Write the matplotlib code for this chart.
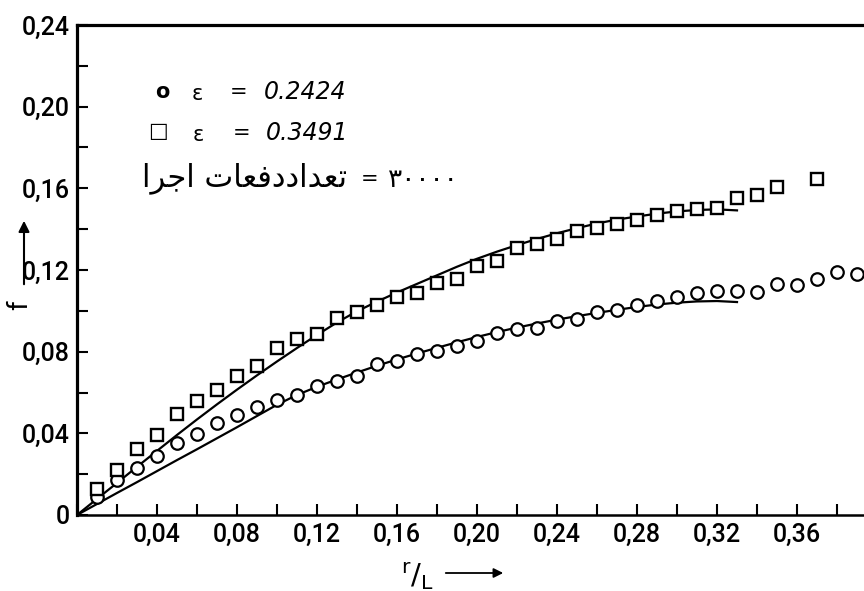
import matplotlib
matplotlib.use('Agg')
import matplotlib.pyplot as plt
from matplotlib.ticker import MultipleLocator, FuncFormatter

# measured points, eps = 0.2424 (circles)
r_circ = [0.01, 0.02, 0.03, 0.04, 0.05, 0.06, 0.07, 0.08, 0.09, 0.10,
          0.11, 0.12, 0.13, 0.14, 0.15, 0.16, 0.17, 0.18, 0.19, 0.20,
          0.21, 0.22, 0.23, 0.24, 0.25, 0.26, 0.27, 0.28, 0.29, 0.30,
          0.31, 0.32, 0.33, 0.34, 0.35, 0.36, 0.37, 0.38, 0.39]
f_circ = [0.0090, 0.0172, 0.0229, 0.0291, 0.0355, 0.0396, 0.0452, 0.0488, 0.0530, 0.0565,
          0.0588, 0.0633, 0.0655, 0.0679, 0.0738, 0.0753, 0.0787, 0.0804, 0.0829, 0.0851,
          0.0892, 0.0909, 0.0917, 0.0950, 0.0959, 0.0994, 0.1003, 0.1031, 0.1050, 0.1067,
          0.1089, 0.1099, 0.1099, 0.1092, 0.1131, 0.1126, 0.1156, 0.1189, 0.1182]

# measured points, eps = 0.3491 (squares)
r_sq = [0.01, 0.02, 0.03, 0.04, 0.05, 0.06, 0.07, 0.08, 0.09, 0.10,
        0.11, 0.12, 0.13, 0.14, 0.15, 0.16, 0.17, 0.18, 0.19, 0.20,
        0.21, 0.22, 0.23, 0.24, 0.25, 0.26, 0.27, 0.28, 0.29, 0.30,
        0.31, 0.32, 0.33, 0.34, 0.35, 0.37]
f_sq = [0.0128, 0.0221, 0.0324, 0.0390, 0.0493, 0.0558, 0.0614, 0.0679, 0.0728, 0.0819,
        0.0864, 0.0886, 0.0964, 0.0995, 0.1031, 0.1066, 0.1085, 0.1138, 0.1156, 0.1221,
        0.1246, 0.1306, 0.1328, 0.1352, 0.1392, 0.1405, 0.1424, 0.1446, 0.1470, 0.1490,
        0.1498, 0.1503, 0.1552, 0.1568, 0.1606, 0.1645]

# calculated curves
r_fit = [0.0, 0.01, 0.02, 0.03, 0.04, 0.05, 0.06, 0.07, 0.08, 0.09, 0.10,
         0.11, 0.12, 0.13, 0.14, 0.15, 0.16, 0.17, 0.18, 0.19, 0.20,
         0.21, 0.22, 0.23, 0.24, 0.25, 0.26, 0.27, 0.28, 0.29, 0.30,
         0.31, 0.32, 0.33]
f_fit_low = [0.0, 0.0054, 0.0108, 0.0161, 0.0215, 0.0269, 0.0322, 0.0376, 0.0430, 0.0485, 0.0540,
             0.0588, 0.0628, 0.0664, 0.0698, 0.0731, 0.0762, 0.0791, 0.0819, 0.0846, 0.0872,
             0.0896, 0.0918, 0.0938, 0.0957, 0.0974, 0.0990, 0.1005, 0.1019, 0.1031, 0.1040,
             0.1046, 0.1048, 0.1043]
f_fit_high = [0.0, 0.0079, 0.0157, 0.0236, 0.0314, 0.0392, 0.0468, 0.0542, 0.0614, 0.0684, 0.0752,
              0.0818, 0.0882, 0.0943, 0.0998, 0.1045, 0.1090, 0.1132, 0.1174, 0.1216, 0.1255,
              0.1290, 0.1322, 0.1352, 0.1380, 0.1405, 0.1428, 0.1447, 0.1462, 0.1476, 0.1487,
              0.1494, 0.1497, 0.1492]

runs_label = '\uFE8D\uFEAE\uFE9F\uFE8D \uFE95\uFE8E\uFECC\uFED3\uFEA9\uFEA9\uFE8D\uFEAA\uFECC\uFE97'  # تعداددفعات اجرا
runs_value = '۳۰۰۰۰'

W, H = 864, 591
tick_font = ['Roboto', 'DejaVu Sans']
plt.rcParams['mathtext.fontset'] = 'dejavusans'

fig = plt.figure(figsize=(W / 100, H / 100), dpi=100)
ax = fig.add_axes([77 / W, 76 / H, 1 - 77 / W, (515 - 25) / H])

ax.plot(r_fit, f_fit_low, color='black', lw=1.6)
ax.plot(r_fit, f_fit_high, color='black', lw=1.6)
ax.plot(r_circ, f_circ, 'o', ls='none', mfc='white', mec='black', ms=9, mew=1.6)
ax.plot(r_sq, f_sq, 's', ls='none', mfc='white', mec='black', ms=9, mew=1.7)

ax.set_xlim(0, 0.3935)
ax.set_ylim(0, 0.24)

ax.spines['right'].set_visible(False)
ax.spines['left'].set_linewidth(2.3)
ax.spines['top'].set_linewidth(2.3)
ax.spines['bottom'].set_linewidth(1.8)

ax.xaxis.set_major_locator(MultipleLocator(0.04))
ax.xaxis.set_minor_locator(MultipleLocator(0.02))
ax.yaxis.set_major_locator(MultipleLocator(0.04))
ax.yaxis.set_minor_locator(MultipleLocator(0.02))
ax.xaxis.set_major_formatter(FuncFormatter(lambda v, p: '' if abs(v) < 1e-9 else f'{v:.2f}'.replace('.', ',')))
ax.yaxis.set_major_formatter(FuncFormatter(lambda v, p: '0' if abs(v) < 1e-9 else f'{v:.2f}'.replace('.', ',')))
ax.tick_params(which='both', direction='in', length=8, width=1.5, top=False, right=False)
ax.tick_params(axis='x', pad=6)
ax.tick_params(axis='y', pad=5)
for lab in ax.get_xticklabels() + ax.get_yticklabels():
    lab.set_family(tick_font)
    lab.set_fontsize(18)
    lab.set_weight('medium')


def px(x, y):
    return x / W, 1 - y / H


# axis labels with arrows
fig.text(*px(20, 305), 'f', rotation=90, fontsize=20, ha='center', va='center', family=tick_font)
ax.annotate('', xy=px(24, 218), xytext=px(24, 287), xycoords='figure fraction',
            arrowprops=dict(arrowstyle='-|>', lw=1.5, color='black', mutation_scale=16))
fig.text(*px(417, 576), r'$^\mathrm{r}/_\mathrm{L}$', fontsize=21, ha='center', va='center')
ax.annotate('', xy=px(506, 573), xytext=px(443, 573), xycoords='figure fraction',
            arrowprops=dict(arrowstyle='-|>', lw=1.3, color='black', mutation_scale=14))

# legend block
fig.text(*px(162, 92), 'o', fontsize=15, weight='bold', ha='center', va='center')
fig.text(*px(197, 94), 'ε', fontsize=15, ha='center', va='center')
fig.text(*px(239, 92), '=', fontsize=15, ha='center', va='center')
fig.text(*px(264, 92), '0.2424', fontsize=17, style='italic', ha='left', va='center')
fig.text(*px(158, 131), '□', fontsize=15, weight='bold', ha='center', va='center')
fig.text(*px(198, 135), 'ε', fontsize=15, ha='center', va='center')
fig.text(*px(242, 133), '=', fontsize=15, ha='center', va='center')
fig.text(*px(266, 133), '0.3491', fontsize=17, style='italic', ha='left', va='center')

fig.text(*px(347, 178), runs_label, fontsize=22, ha='right', va='center', family=['DejaVu Sans'])
fig.text(*px(370, 179), '=', fontsize=15, ha='center', va='center')
fig.text(*px(388, 180), runs_value, fontsize=19, ha='left', va='center', family=['DejaVu Sans'])

fig.savefig('out.png', dpi=100)
